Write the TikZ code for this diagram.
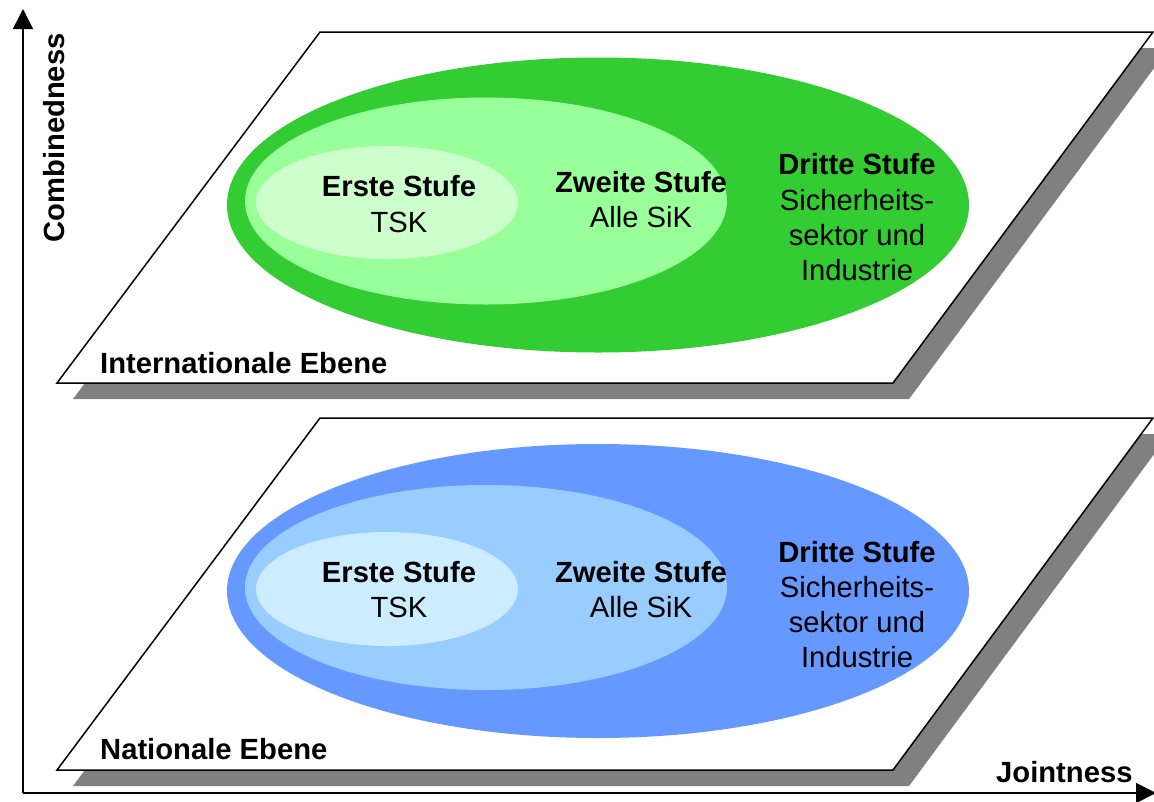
\documentclass[tikz,border=0pt]{standalone}
\usepackage{fontspec}
\setmainfont{Liberation Sans}
\usetikzlibrary{arrows.meta}
\definecolor{gdark}{HTML}{33CC33}
\definecolor{gmid}{HTML}{99FF99}
\definecolor{glight}{HTML}{CCFFCC}
\definecolor{bdark}{HTML}{6699FF}
\definecolor{bmid}{HTML}{99CCFF}
\definecolor{blight}{HTML}{CCECFF}
\definecolor{shadowgray}{HTML}{808080}
\begin{document}
\begin{tikzpicture}[x=1pt,y=-1pt,
  lbl/.style={font=\fontsize{29.2}{34}\selectfont, anchor=base, inner sep=0pt},
  blbl/.style={font=\fontsize{29.2}{34}\selectfont\bfseries, anchor=base, inner sep=0pt},
  plane/.style={fill=white, draw=black, line width=1.5pt, line join=miter},
  planeshadow/.style={fill=shadowgray},
  axis/.style={line width=1.5pt, -{Triangle[length=20pt,width=20pt]}}
]
\useasboundingbox (0,0) rectangle (1154,801);

% ---------- top plane ----------
\fill[planeshadow] (73,399) -- (909,399) -- (1169,48) -- (336,48) -- cycle;
\draw[plane] (57,383) -- (893,383) -- (1153,32) -- (320,32) -- cycle;
\fill[gdark]  (598,205) ellipse [x radius=371, y radius=147.5];
\fill[gmid]   (486,201) ellipse [x radius=241, y radius=103.5];
\fill[glight] (387,202.5) ellipse [x radius=131, y radius=56.5];

\node[blbl] (e1t) at (399,196) {Erste Stufe};
\node[lbl]  (e2t) at (399,232) {TSK};
\node[blbl] (z1t) at (641,192) {Zweite Stufe};
\node[lbl]  (z2t) at (641,227) {Alle SiK};
\node[blbl] (d1t) at (857,174) {Dritte Stufe};
\node[lbl]  (d2t) at (857,210) {Sicherheits-};
\node[lbl]  (d3t) at (857,245) {sektor und};
\node[lbl]  (d4t) at (857,280) {Industrie};
\node[blbl, anchor=base west] (intl) at (100,373) {Internationale Ebene};

% ---------- bottom plane ----------
\fill[planeshadow] (73,786) -- (909,786) -- (1169,434) -- (336,434) -- cycle;
\draw[plane] (57,770) -- (893,770) -- (1153,418) -- (320,418) -- cycle;
\fill[bdark]  (598,591) ellipse [x radius=371, y radius=147];
\fill[bmid]   (486,587.5) ellipse [x radius=241, y radius=102.5];
\fill[blight] (387,589) ellipse [x radius=131, y radius=57];

\node[blbl] (e1b) at (399,582) {Erste Stufe};
\node[lbl]  (e2b) at (399,617) {TSK};
\node[blbl] (z1b) at (641,582) {Zweite Stufe};
\node[lbl]  (z2b) at (641,617) {Alle SiK};
\node[blbl] (d1b) at (857,562) {Dritte Stufe};
\node[lbl]  (d2b) at (857,597) {Sicherheits-};
\node[lbl]  (d3b) at (857,632) {sektor und};
\node[lbl]  (d4b) at (857,667) {Industrie};
\node[blbl, anchor=base west] (natl) at (100,759) {Nationale Ebene};

% ---------- axes ----------
\coordinate (orig) at (23,793);
\coordinate (ytip) at (23,9);
\coordinate (xtip) at (1156,793);
\draw[axis] (orig) -- (ytip);
\draw[axis] (orig) -- (xtip);
\node[blbl, anchor=center, rotate=90] (ylab) at (54,138) {Combinedness};
\node[blbl, anchor=base west] (xlab) at (996,782) {Jointness};
\end{tikzpicture}
\end{document}
